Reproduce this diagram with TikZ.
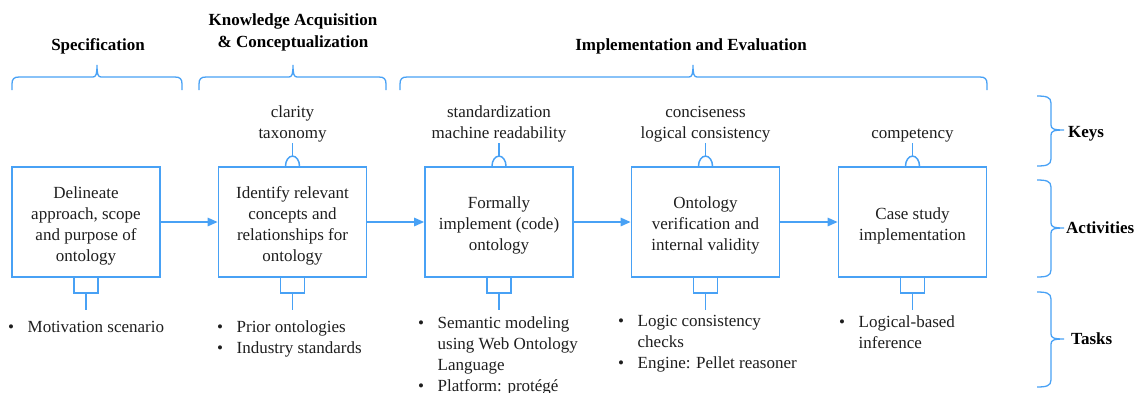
\documentclass[tikz,border=0pt]{standalone}
\usepackage{fontspec}
\setmainfont{Liberation Serif}
\usetikzlibrary{arrows.meta}
\definecolor{flowblue}{RGB}{72,161,245}
\definecolor{inkgray}{RGB}{30,30,30}
\begin{document}
\begin{tikzpicture}[x=1pt,y=-1pt,
  txt/.style={font=\fontsize{17}{21}\selectfont, text=inkgray, inner sep=0pt},
  headtxt/.style={font=\fontsize{17}{22}\selectfont\bfseries, text=black, inner sep=0pt, align=center},
  stepbox/.style={draw=flowblue, line width=1.8pt, minimum width=148pt, minimum height=110pt, inner sep=0pt},
  steptxt/.style={txt, align=center},
  keytxt/.style={txt, align=center, anchor=south, inner ysep=0.5pt},
  tasktxt/.style={txt, anchor=base west},
  flow/.style={draw=flowblue, line width=1.5pt, -{Triangle[length=10pt,width=8.5pt]}},
  link/.style={draw=flowblue, line width=1.5pt},
  brace/.style={draw=flowblue, line width=1.3pt}
]
\useasboundingbox (0,0) rectangle (1137,392);

% phase headings
\node[headtxt, anchor=base] (h1) at (98,50) {Specification};
\node[headtxt, anchor=south] (h2) at (293,51) {Knowledge Acquisition\\\& Conceptualization};
\node[headtxt, anchor=base] (h3) at (691,50) {Implementation and Evaluation};

% phase braces
\draw[brace] (12,90) -- (12,84) .. controls (12,79) and (14,77) .. (19,77) -- (93,77)
  .. controls (96,77) and (97,74) .. (97,65) .. controls (97,74) and (98,77) .. (101,77)
  -- (175,77) .. controls (180,77) and (182,79) .. (182,84) -- (182,90);
\draw[brace] (199,90) -- (199,84) .. controls (199,79) and (201,77) .. (206,77) -- (289,77)
  .. controls (292,77) and (293,74) .. (293,65) .. controls (293,74) and (294,77) .. (297,77)
  -- (379,77) .. controls (384,77) and (386,79) .. (386,84) -- (386,90);
\draw[brace] (400,90) -- (400,84) .. controls (400,79) and (402,77) .. (407,77) -- (689,77)
  .. controls (692,77) and (693,74) .. (693,65) .. controls (693,74) and (694,77) .. (697,77)
  -- (980,77) .. controls (985,77) and (987,79) .. (987,84) -- (987,90);

% activity boxes and their texts
\node[stepbox] (b1) at (86,222) {};
\node[stepbox] (b2) at (292.5,222) {};
\node[stepbox] (b3) at (499,222) {};
\node[stepbox] (b4) at (705.5,222) {};
\node[stepbox] (b5) at (912.5,222) {};

\node[steptxt] (a1) at ([yshift=-3.5pt]b1.center) {Delineate\\approach, scope\\and purpose of\\ontology};
\node[steptxt] (a2) at ([yshift=-3.5pt]b2.center) {Identify relevant\\concepts and\\relationships for\\ontology};
\node[steptxt] (a3) at ([yshift=-3.5pt]b3.center) {Formally\\implement (code)\\ontology};
\node[steptxt] (a4) at ([yshift=-3.5pt]b4.center) {Ontology\\verification and\\internal validity};
\node[steptxt] (a5) at ([yshift=-3.5pt]b5.center) {Case study\\implementation};

\draw[flow] (b1.east) -- (b2.west);
\draw[flow] (b2.east) -- (b3.west);
\draw[flow] (b3.east) -- (b4.west);
\draw[flow] (b4.east) -- (b5.west);

% keys
\node[keytxt] (k2) at (292.5,143) {clarity\\taxonomy};
\node[keytxt] (k3) at (499,143) {standardization\\machine readability};
\node[keytxt] (k4) at (705.5,143) {conciseness\\logical consistency};
\node[keytxt] (k5) at (912.5,143) {competency};

\foreach \b/\k in {b2/k2,b3/k3,b4/k4,b5/k5}{
  \draw[link] ([xshift=-7pt]\b.north) .. controls +(0,-5.5) and +(-3.9,0) .. ([yshift=10pt]\b.north)
    .. controls +(3.9,0) and +(0,-5.5) .. ([xshift=7pt]\b.north);
  \draw[link] ([yshift=10pt]\b.north) -- (\k.south);
}

% tasks
\foreach \b in {b1,b2,b3,b4,b5}{
  \draw[link] ([xshift=-12pt]\b.south) -- ++(0,15) -- ++(24,0) -- ++(0,-15);
  \draw[link] ([yshift=-15pt]\b.south) -- ++(0,17);
}

\node[tasktxt] (t1) at (8,332) {\begin{tabular}[t]{@{}l@{\hspace{13.5pt}}l@{}}
  \textbullet & Motivation scenario\end{tabular}};
\node[tasktxt] (t2) at (217,332) {\begin{tabular}[t]{@{}l@{\hspace{13.5pt}}l@{}}
  \textbullet & Prior ontologies\\ \textbullet & Industry standards\end{tabular}};
\node[tasktxt] (t3) at (418,328) {\begin{tabular}[t]{@{}l@{\hspace{13.5pt}}l@{}}
  \textbullet & Semantic modeling\\ & using Web Ontology\\ & Language\\
  \textbullet & Platform: protégé\end{tabular}};
\node[tasktxt] (t4) at (618,326) {\begin{tabular}[t]{@{}l@{\hspace{13.5pt}}l@{}}
  \textbullet & Logic consistency\\ & checks\\ \textbullet & Engine: Pellet reasoner\end{tabular}};
\node[tasktxt] (t5) at (839,327) {\begin{tabular}[t]{@{}l@{\hspace{13.5pt}}l@{}}
  \textbullet & Logical-based\\ & inference\end{tabular}};

% row braces
\draw[brace] (1037,96) .. controls (1046,96) and (1051,97) .. (1051,103) -- (1051,125)
  .. controls (1051,129) and (1054,130) .. (1064,130) .. controls (1054,130) and (1051,131) .. (1051,135)
  -- (1051,159) .. controls (1051,165) and (1046,166) .. (1037,166);
\draw[brace] (1037,180) .. controls (1046,180) and (1051,181) .. (1051,187) -- (1051,223)
  .. controls (1051,227) and (1054,228) .. (1064,228) .. controls (1054,228) and (1051,229) .. (1051,233)
  -- (1051,270) .. controls (1051,276) and (1046,277) .. (1037,277);
\draw[brace] (1037,292) .. controls (1046,292) and (1051,293) .. (1051,299) -- (1051,334)
  .. controls (1051,338) and (1054,339) .. (1064,339) .. controls (1054,339) and (1051,340) .. (1051,344)
  -- (1051,380) .. controls (1051,386) and (1046,387) .. (1037,387);

\node[headtxt, anchor=base west] (r1) at (1068,137) {Keys};
\node[headtxt, anchor=base west] (r2) at (1066,233) {Activities};
\node[headtxt, anchor=base west] (r3) at (1071,344) {Tasks};
\end{tikzpicture}
\end{document}
